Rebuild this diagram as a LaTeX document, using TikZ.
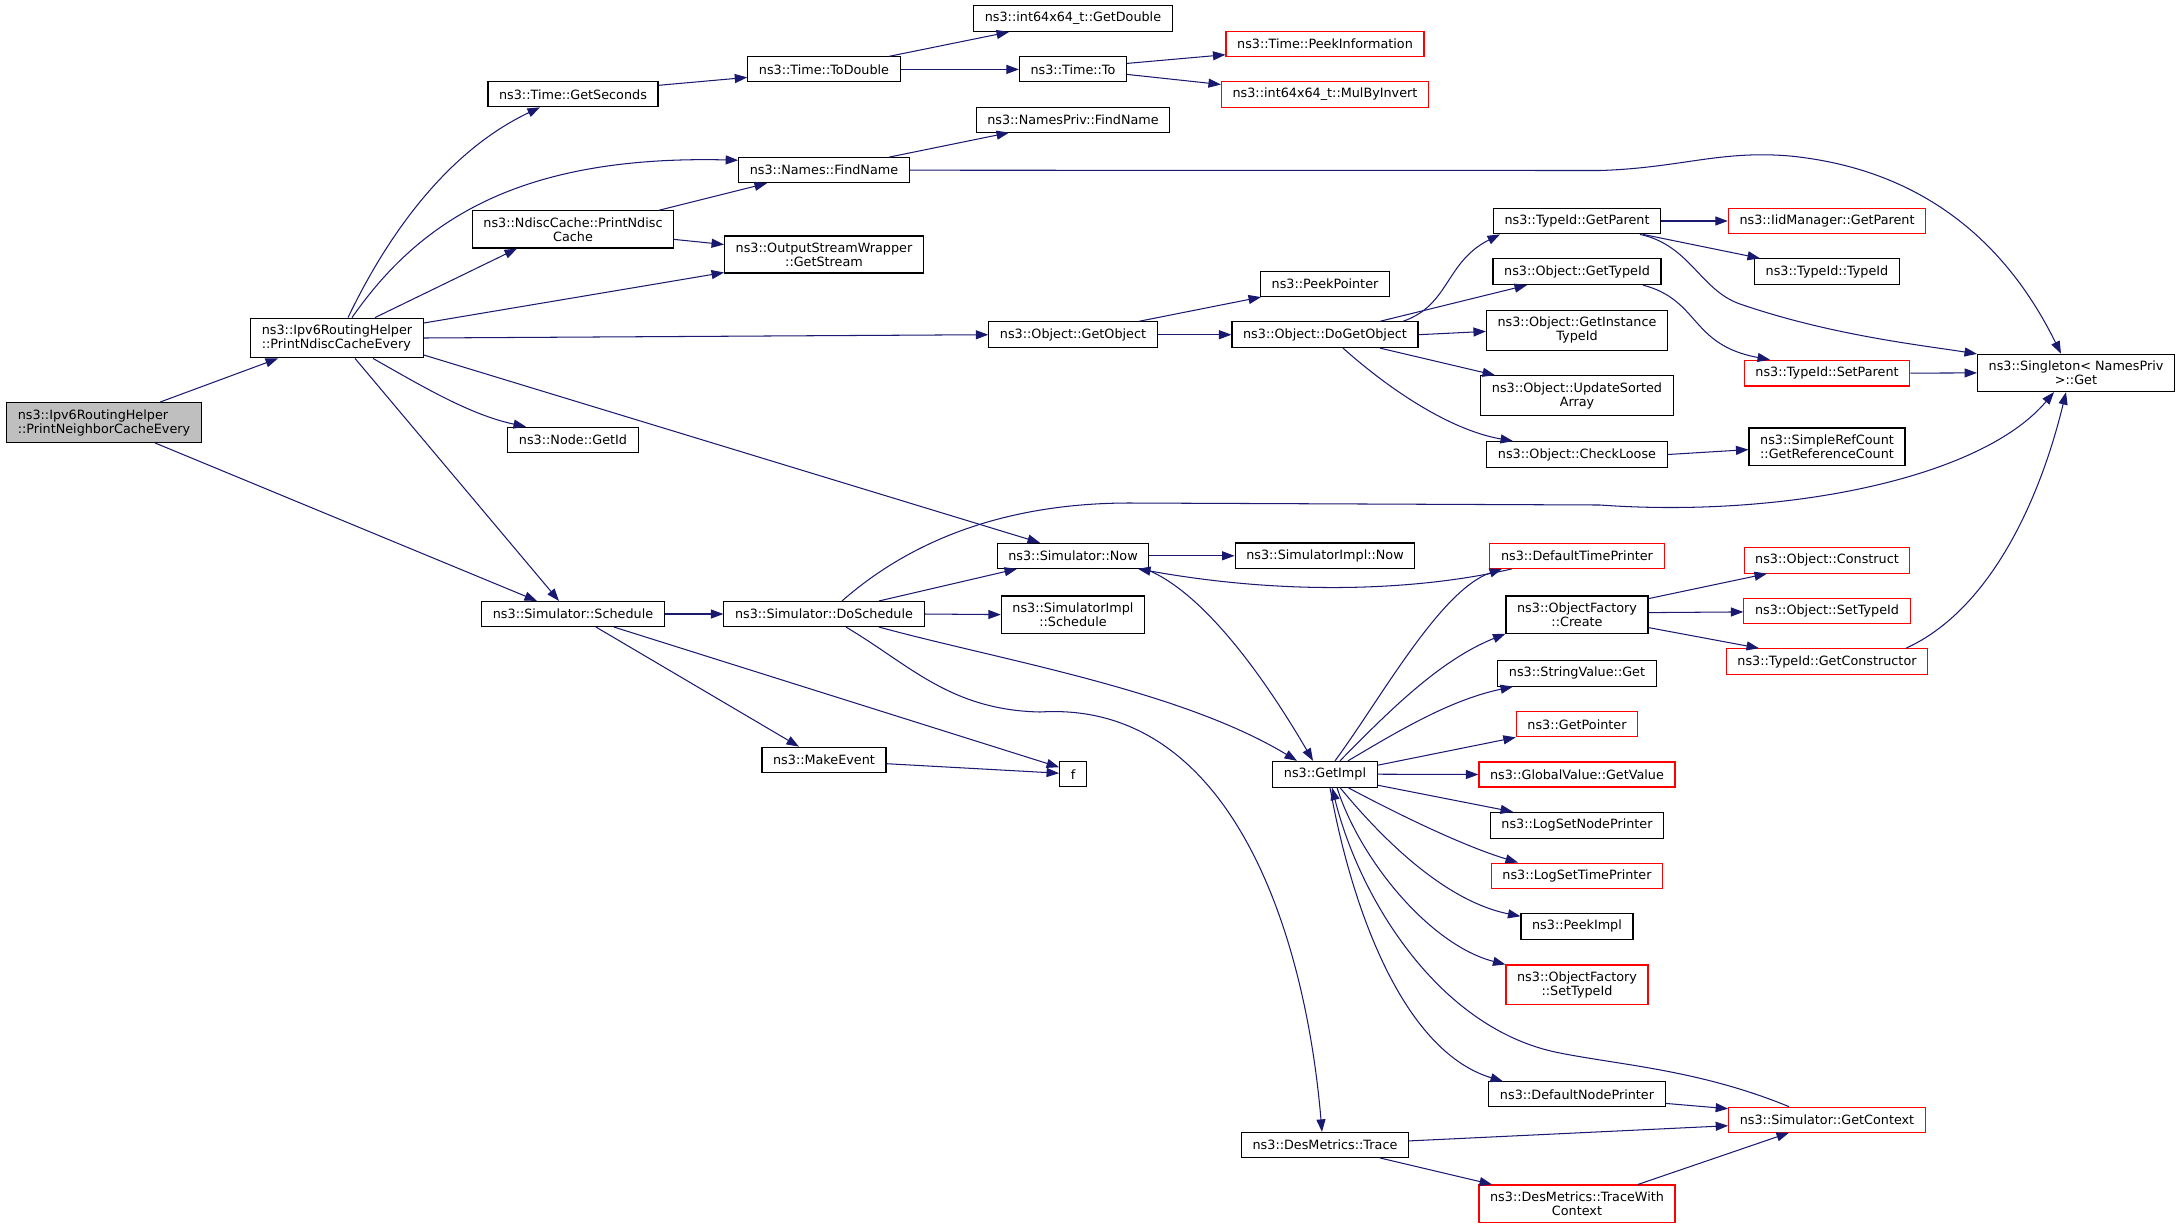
\documentclass[tikz,border=0pt]{standalone}
\usepackage{fontspec}
\setmainfont{DejaVu Sans}
\usetikzlibrary{calc,arrows.meta}
\definecolor{midnight}{HTML}{191970}

\begin{document}
\begin{tikzpicture}[x=0.72pt,y=-0.72pt]
\tikzstyle{box}=[draw=black,line width=0.8pt,rectangle,inner xsep=8pt,inner ysep=4.8pt,minimum height=18pt,align=center,font=\fontsize{9.2}{10.1}\selectfont]
\tikzstyle{trunc}=[box,draw=red]
\tikzstyle{root}=[box,fill=black!25,align=left]
\tikzstyle{link}=[draw=midnight,line width=0.75pt,-{Triangle[length=9pt,width=6.5pt]}]
\useasboundingbox (0,0) rectangle (2181,1229);
% callers
\node[root] (nEvery) at (104,422.5) {ns3::Ipv6RoutingHelper\\::PrintNeighborCacheEvery};
\node[box,align=left] (nNdiscEvery) at (337,338) {ns3::Ipv6RoutingHelper\\::PrintNdiscCacheEvery};
% third column
\node[box] (nGetSeconds) at (573,94.3) {ns3::Time::GetSeconds};
\node[box] (nPrintNdisc) at (573,229.4) {ns3::NdiscCache::PrintNdisc\\Cache};
\node[box] (nGetId) at (573,439.7) {ns3::Node::GetId};
\node[box] (nSchedule) at (573,614) {ns3::Simulator::Schedule};
% fourth column
\node[box] (nToDouble) at (824,69.4) {ns3::Time::ToDouble};
\node[box] (nNamesFind) at (824,170.2) {ns3::Names::FindName};
\node[box] (nGetStream) at (824,254.5) {ns3::OutputStreamWrapper\\::GetStream};
\node[box] (nDoSchedule) at (824,614) {ns3::Simulator::DoSchedule};
\node[box] (nMakeEvent) at (824,759.7) {ns3::MakeEvent};
% fifth column
\node[box] (nGetDouble) at (1073,18.4) {ns3::int64x64\_t::GetDouble};
\node[box] (nTo) at (1073,69.4) {ns3::Time::To};
\node[box] (nPrivFind) at (1073,119.6) {ns3::NamesPriv::FindName};
\node[box] (nGetObject) at (1073,334.7) {ns3::Object::GetObject};
\node[box] (nNow) at (1073,555.8) {ns3::Simulator::Now};
\node[box] (nImplSchedule) at (1073,614.6) {ns3::SimulatorImpl\\::Schedule};
\node[box] (nF) at (1073,774.2) {f};
% sixth column
\node[trunc] (nPeekInfo) at (1325,43.7) {ns3::Time::PeekInformation};
\node[trunc] (nMulBy) at (1325,94.5) {ns3::int64x64\_t::MulByInvert};
\node[box] (nPeekPointer) at (1325,284) {ns3::PeekPointer};
\node[box] (nDoGetObject) at (1325,334.7) {ns3::Object::DoGetObject};
\node[box] (nImplNow) at (1325,555.8) {ns3::SimulatorImpl::Now};
\node[box] (nGetImpl) at (1325,774.2) {ns3::GetImpl};
\node[box] (nTrace) at (1325,1144.9) {ns3::DesMetrics::Trace};
% seventh column
\node[box] (nGetParent) at (1577,221) {ns3::TypeId::GetParent};
\node[box] (nGetTypeId) at (1577,271.7) {ns3::Object::GetTypeId};
\node[box] (nInstTypeId) at (1577,330.4) {ns3::Object::GetInstance\\TypeId};
\node[box] (nUpdSorted) at (1577,395.6) {ns3::Object::UpdateSorted\\Array};
\node[box] (nCheckLoose) at (1577,454.5) {ns3::Object::CheckLoose};
\node[trunc] (nTimePrinter) at (1577,555.8) {ns3::DefaultTimePrinter};
\node[box] (nCreate) at (1577,614.6) {ns3::ObjectFactory\\::Create};
\node[box] (nStringGet) at (1577,673.2) {ns3::StringValue::Get};
\node[trunc] (nGetPointer) at (1577,724.3) {ns3::GetPointer};
\node[trunc] (nGlobalGet) at (1577,774.5) {ns3::GlobalValue::GetValue};
\node[box] (nNodePrinterSet) at (1577,825.2) {ns3::LogSetNodePrinter};
\node[trunc] (nTimePrinterSet) at (1577,875.9) {ns3::LogSetTimePrinter};
\node[box] (nPeekImpl) at (1577,926.3) {ns3::PeekImpl};
\node[trunc] (nFactSetTypeId) at (1577,984.9) {ns3::ObjectFactory\\::SetTypeId};
\node[box] (nNodePrinter) at (1577,1094.4) {ns3::DefaultNodePrinter};
\node[trunc] (nTraceCtx) at (1577,1203.6) {ns3::DesMetrics::TraceWith\\Context};
% eighth column
\node[trunc] (nIidParent) at (1827,221) {ns3::IidManager::GetParent};
\node[box] (nTypeIdCtor) at (1827,271.7) {ns3::TypeId::TypeId};
\node[trunc] (nSetParent) at (1827,373.1) {ns3::TypeId::SetParent};
\node[box] (nRefCount) at (1827,446.6) {ns3::SimpleRefCount\\::GetReferenceCount};
\node[trunc] (nConstruct) at (1827,560.2) {ns3::Object::Construct};
\node[trunc] (nObjSetTypeId) at (1827,610.9) {ns3::Object::SetTypeId};
\node[trunc] (nGetCtor) at (1827,661.6) {ns3::TypeId::GetConstructor};
\node[trunc] (nGetContext) at (1827,1119.7) {ns3::Simulator::GetContext};
% last column
\node[box] (nSingleton) at (2076,372.9) {ns3::Singleton< NamesPriv\\>::Get};

% calls from the two helpers
\draw[link] ($(nEvery.north)+(56,0)$) -- ($(nNdiscEvery.south)+(-59,0)$);
\draw[link] ($(nEvery.south)+(51,0)$) -- ($(nSchedule.north)+(-36,0)$);
\draw[link] ($(nNdiscEvery.north)+(11,0)$) .. controls (390,230) and (450,150) .. ($(nGetSeconds.south)+(-33,0)$);
\draw[link] ($(nNdiscEvery.north)+(15,0)$) .. controls (420,220) and (520,155) .. ($(nNamesFind.west)+(0,-10)$);
\draw[link] ($(nNdiscEvery.north)+(38,0)$) -- ($(nPrintNdisc.south)+(-56,0)$);
\draw[link] ($(nNdiscEvery.east)+(0,-15)$) -- ($(nGetStream.west)+(0,18)$);
\draw[link] (nNdiscEvery.east) -- (nGetObject.west);
\draw[link] ($(nNdiscEvery.east)+(0,17)$) -- ($(nNow.north)+(-33,0)$);
\draw[link] ($(nNdiscEvery.south)+(36,0)$) .. controls (420,385) and (470,415) .. ($(nGetId.north)+(-47,0)$);
\draw[link] ($(nNdiscEvery.south)+(18,0)$) -- ($(nSchedule.north)+(-14,0)$);
\draw[link] ($(nPrintNdisc.north)+(86,0)$) -- ($(nNamesFind.south)+(-57,0)$);
\draw[link] ($(nPrintNdisc.east)+(0,10)$) -- ($(nGetStream.west)+(0,-10)$);

% time and names
\draw[link] ($(nGetSeconds.east)+(0,-9)$) -- ($(nToDouble.west)+(0,8)$);
\draw[link] ($(nToDouble.north)+(65,0)$) -- ($(nGetDouble.south)+(-64,0)$);
\draw[link] (nToDouble.east) -- (nTo.west);
\draw[link] ($(nTo.east)+(0,-6)$) -- ($(nPeekInfo.west)+(0,11)$);
\draw[link] ($(nTo.east)+(0,5)$) -- ($(nMulBy.west)+(0,-10)$);
\draw[link] ($(nNamesFind.north)+(65,0)$) -- ($(nPrivFind.south)+(-64,0)$);
\draw[link] (nNamesFind.east) -- (1600,170.5) .. controls (1680,168) and (1720,150) .. (1790,156)
  .. controls (1930,170) and (2010,250) .. ($(nSingleton.north)+(-15,0)$);

% objects
\draw[link] ($(nGetObject.north)+(66,0)$) -- ($(nPeekPointer.south)+(-64,0)$);
\draw[link] (nGetObject.east) -- (nDoGetObject.west);
\draw[link] ($(nDoGetObject.north)+(78,0)$) .. controls (1450,305) and (1445,262) .. ($(nGetParent.south)+(-77,0)$);
\draw[link] ($(nDoGetObject.north)+(55,0)$) -- ($(nGetTypeId.south)+(-50,0)$);
\draw[link] (nDoGetObject.east) -- ($(nInstTypeId.west)+(0,1)$);
\draw[link] ($(nDoGetObject.south)+(55,0)$) -- ($(nUpdSorted.north)+(-82,0)$);
\draw[link] ($(nDoGetObject.south)+(18,0)$) .. controls (1390,390) and (1450,430) .. ($(nCheckLoose.north)+(-64,0)$);
\draw[link] (nGetParent.east) -- (nIidParent.west);
\draw[link] ($(nGetParent.south)+(66,0)$) -- ($(nTypeIdCtor.north)+(-67,0)$);
\draw[link] ($(nGetParent.south)+(63,0)$) .. controls (1690,245) and (1700,290) .. (1740,304)
  .. controls (1830,335) and (1920,345) .. ($(nSingleton.west)+(0,-19)$);
\draw[link] ($(nGetTypeId.south)+(66,0)$) .. controls (1700,300) and (1690,345) .. ($(nSetParent.north)+(-57,0)$);
\draw[link] (nSetParent.east) -- (nSingleton.west);
\draw[link] (nCheckLoose.east) -- ($(nRefCount.west)+(0,3)$);

% scheduling
\draw[link] (nSchedule.east) -- (nDoSchedule.west);
\draw[link] ($(nSchedule.south)+(23,0)$) -- ($(nMakeEvent.north)+(-25,0)$);
\draw[link] ($(nSchedule.south)+(41,0)$) -- ($(nF.west)+(0,-7)$);
\draw[link] ($(nMakeEvent.east)+(0,4)$) -- ($(nF.west)+(0,-1)$);
\draw[link] ($(nDoSchedule.north)+(18,0)$) .. controls (900,550) and (990,503) .. (1130,503) -- (1600,505)
  .. controls (1780,518) and (1980,480) .. ($(nSingleton.south)+(-22,0)$);
\draw[link] ($(nDoSchedule.north)+(55,0)$) -- ($(nNow.south)+(-56,0)$);
\draw[link] (nDoSchedule.east) -- (nImplSchedule.west);
\draw[link] ($(nDoSchedule.south)+(55,0)$) .. controls (1000,660) and (1180,690) .. ($(nGetImpl.north)+(-28,0)$);
\draw[link] ($(nDoSchedule.south)+(22,0)$) .. controls (910,665) and (950,710) .. (1040,712)
  .. controls (1230,700) and (1305,930) .. ($(nTrace.north)+(-3,0)$);
\draw[link] (nNow.east) -- (nImplNow.west);
\draw[link] ($(nNow.south)+(72,0)$) .. controls (1200,590) and (1260,670) .. ($(nGetImpl.north)+(-12,0)$);
\draw[link] ($(nTimePrinter.south)+(-65,0)$) .. controls (1430,588) and (1300,598) .. ($(nNow.south)+(65,0)$);

% GetImpl fan
\draw[link] ($(nGetImpl.north)+(10,0)$) .. controls (1380,700) and (1440,590) .. ($(nTimePrinter.south)+(-75,0)$);
\draw[link] ($(nGetImpl.north)+(15,0)$) .. controls (1390,710) and (1440,660) .. (nCreate.south west);
\draw[link] ($(nGetImpl.north)+(23,0)$) .. controls (1400,730) and (1450,700) .. ($(nStringGet.south)+(-64,0)$);
\draw[link] ($(nGetImpl.east)+(0,-9)$) -- (nGetPointer.south west);
\draw[link] (nGetImpl.east) -- (nGlobalGet.west);
\draw[link] ($(nGetImpl.east)+(0,11)$) -- ($(nNodePrinterSet.north)+(-64,0)$);
\draw[link] ($(nGetImpl.south)+(23,0)$) .. controls (1390,810) and (1460,845) .. ($(nTimePrinterSet.north)+(-59,0)$);
\draw[link] ($(nGetImpl.south)+(15,0)$) .. controls (1375,830) and (1440,900) .. ($(nPeekImpl.west)+(0,-10)$);
\draw[link] ($(nGetImpl.south)+(12,0)$) .. controls (1360,860) and (1430,945) .. (nFactSetTypeId.north west);
\draw[link] ($(nGetImpl.south)+(5,0)$) .. controls (1350,900) and (1400,1050) .. ($(nNodePrinter.north)+(-74,0)$);
\draw[link] ($(nGetContext.north)+(-38,0)$) .. controls (1700,1070) and (1620,1065) .. (1560,1053)
  .. controls (1440,1030) and (1360,900) .. ($(nGetImpl.south)+(7,0)$);

% factory and context
\draw[link] ($(nCreate.east)+(0,-16)$) -- ($(nConstruct.south)+(-60,0)$);
\draw[link] ($(nCreate.east)+(0,-2)$) -- ($(nObjSetTypeId.west)+(0,1)$);
\draw[link] ($(nCreate.east)+(0,13)$) -- ($(nGetCtor.north)+(-68,0)$);
\draw[link] ($(nGetCtor.north)+(79,0)$) .. controls (1990,610) and (2040,500) .. ($(nSingleton.south)+(-10,0)$);
\draw[link] ($(nNodePrinter.east)+(0,9)$) -- ($(nGetContext.west)+(0,-11)$);
\draw[link] ($(nTrace.east)+(0,-4)$) -- ($(nGetContext.west)+(0,6)$);
\draw[link] ($(nTrace.south)+(55,0)$) -- ($(nTraceCtx.north)+(-85,0)$);
\draw[link] ($(nTraceCtx.north)+(61,0)$) -- ($(nGetContext.south)+(-38,0)$);
\end{tikzpicture}
\end{document}
